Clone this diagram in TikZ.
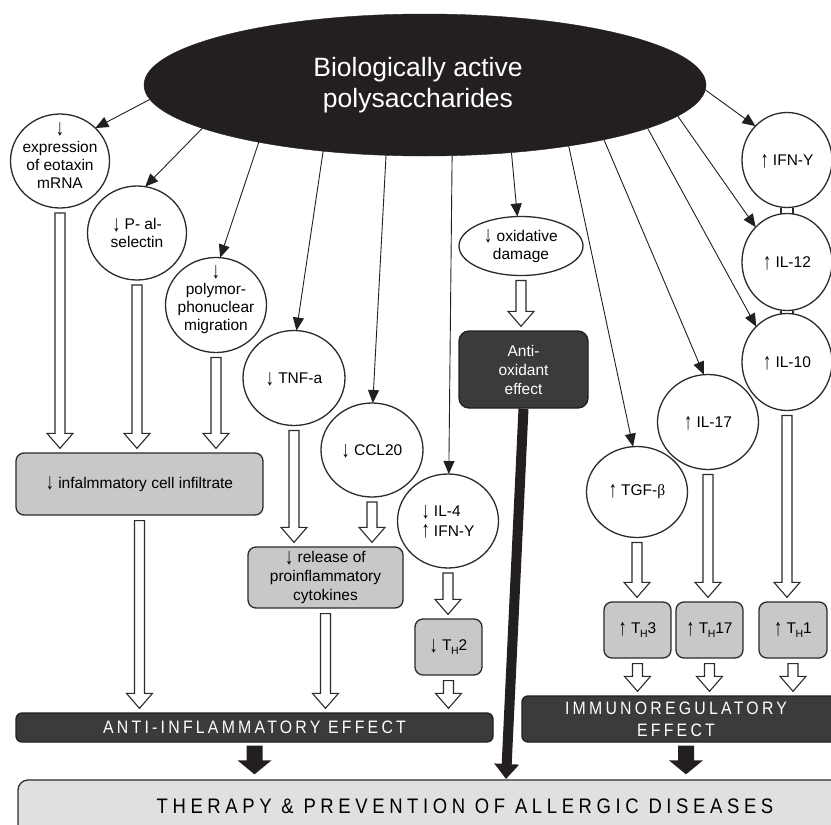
\documentclass[tikz,border=0pt]{standalone}
\usepackage{graphicx}
\usepackage{fontspec}
\setmainfont{Liberation Sans}
\newfontfamily\serifb{Liberation Serif}
\newfontfamily\capsfont[FakeStretch=0.88,LetterSpace=18]{Liberation Sans}
\newfontfamily\capsfontb[FakeStretch=0.88,LetterSpace=22]{Liberation Sans}
\usetikzlibrary{shapes.geometric,arrows.meta,calc}
\definecolor{ink}{HTML}{231F20}
\definecolor{darkbox}{HTML}{3B3B3D}
\definecolor{greybox}{HTML}{C8C8C8}
\definecolor{lightbox}{HTML}{E0E0E0}
\definecolor{linec}{HTML}{2B2B2B}
\newcommand\dnar{\smash{\raisebox{-0.12em}{\scalebox{1.05}[1.5]{↓}}}}
\newcommand\upar{\smash{\raisebox{-0.12em}{\scalebox{1.05}[1.5]{↑}}}}
\newcommand\Tsub[1]{T\kern-0.5pt\raisebox{-3.5pt}{\fontsize{10.5}{10.5}\selectfont H}#1}
\newcommand\hollowarr[2]{%
  \path[draw=linec,fill=white,line width=1.1pt] let \p1=(#1.south), \p2=(#2.north) in
   (\x1-5pt,\y1-5pt) -- (\x1-5pt,\y2+19pt) -- (\x1-13pt,\y2+19pt) -- (\x1,\y2+4pt)
   -- (\x1+13pt,\y2+19pt) -- (\x1+5pt,\y2+19pt) -- (\x1+5pt,\y1-5pt) -- cycle;}
\newcommand\blackarr[2]{%
  \path[fill=ink] let \p1=(#1.south), \p2=(#2.north) in
   (\x1-8pt,\y1-3pt) -- (\x1-8pt,\y2+19pt) -- (\x1-17pt,\y2+19pt) -- (\x1,\y2+5pt)
   -- (\x1+17pt,\y2+19pt) -- (\x1+8pt,\y2+19pt) -- (\x1+8pt,\y1-3pt) -- cycle;}
\begin{document}
\begin{tikzpicture}[x=1pt,y=-1pt,
  circ/.style={ellipse, draw=linec, line width=1.3pt, fill=white, inner sep=0pt, outer sep=0pt},
  ctxt/.style={align=center, font=\fontsize{15.5}{18}\selectfont, inner sep=0pt, text=black},
  gbox/.style={rectangle, rounded corners=8pt, draw=linec, line width=1.3pt, fill=greybox,
    inner sep=0pt, align=center, font=\fontsize{15.5}{19}\selectfont},
  dbox/.style={rectangle, rounded corners=6pt, draw=ink, line width=1.3pt, fill=darkbox,
    inner sep=0pt, align=center, text=white},
  ray/.style={line width=0.9pt, draw=ink, -{Triangle[length=13pt,width=11pt]}},
  big/.style={ellipse, fill=ink, draw=ink, inner sep=0pt, outer sep=0pt,
    minimum width=562pt, minimum height=142pt}]
\useasboundingbox (0,0) rectangle (831,825);
\clip (0,0) rectangle (831,825);
\fill[white] (0,0) rectangle (831,825);

% top
\node[big, label={[align=center, text=white, inner sep=0pt, xshift=-7pt,
  font=\fontsize{26.5}{31}\selectfont]center:{Biologically active\\polysaccharides}}]
  (bio) at (425,85) {};

% left circles
\node[circ, minimum width=99pt, minimum height=94pt,
  label={[ctxt]center:{\dnar\\expression\\of eotaxin\\mRNA}}] (c1) at (60,161) {};
\node[circ, minimum width=99pt, minimum height=94pt,
  label={[ctxt]center:{\dnar\ P- al-\\selectin}}] (c2) at (137,233) {};
\node[circ, minimum width=101pt, minimum height=95pt,
  label={[ctxt]center:{\dnar\\polymor-\\phonuclear\\migration}}] (c3) at (216,305) {};
\node[circ, minimum width=102pt, minimum height=95pt,
  label={[ctxt]center:{\dnar\ TNF-a}}] (tnf) at (294,378) {};
\node[circ, minimum width=102pt, minimum height=94pt,
  label={[ctxt]center:{\dnar\ CCL20}}] (ccl) at (372,450) {};
\node[circ, minimum width=101pt, minimum height=94pt,
  label={[ctxt,align=left,font=\fontsize{15.5}{19.5}\selectfont]center:{\dnar\ IL-4\\\upar\ IFN-Y}}] (il4) at (448,521) {};

% oxidative
\node[circ, minimum width=124pt, minimum height=59pt,
  label={[ctxt]center:{\dnar\ oxidative\\damage}}] (oxid) at (521,246) {};
\node[dbox, rounded corners=10pt, minimum width=129pt, minimum height=77pt,
  font=\fontsize{15.5}{19}\selectfont] (antiox) at (523.5,369.5) {Anti-\\oxidant\\effect};

% right circles
\node[circ, minimum width=101pt, minimum height=91pt,
  label={[ctxt]center:{\upar\ TGF-{\serifb β}}}] (tgf) at (637,492) {};
\node[circ, minimum width=101pt, minimum height=95pt,
  label={[ctxt]center:{\upar\ IL-17}}] (il17) at (708,422) {};
\node[circ, minimum width=90pt, minimum height=95pt,
  label={[ctxt]center:{\upar\ IFN-Y}}] (ifn) at (787,160) {};
\node[circ, minimum width=90pt, minimum height=97pt,
  label={[ctxt]center:{\upar\ IL-12}}] (il12) at (787,262) {};
\node[circ, minimum width=90pt, minimum height=97pt,
  label={[ctxt]center:{\upar\ IL-10}}] (il10) at (787,362) {};
\draw[linec, line width=1.1pt] ($(ifn.south)+(-6,0)$) -- ($(il12.north)+(-6,0)$)
  ($(ifn.south)+(6,0)$) -- ($(il12.north)+(6,0)$);
\draw[linec, line width=1.1pt] ($(il12.south)+(-6,0)$) -- ($(il10.north)+(-6,0)$)
  ($(il12.south)+(6,0)$) -- ($(il10.north)+(6,0)$);

% grey boxes
\node[gbox, minimum width=247pt, minimum height=62pt] (infil) at (139.5,484)
  {\dnar\ infalmmatory cell infiltrate};
\node[gbox, minimum width=155pt, minimum height=61pt] (rel) at (325.5,577.5)
  {\dnar\ release of\\proinflammatory\\cytokines};
\node[gbox, minimum width=67pt, minimum height=56pt] (th2) at (448.5,647) {\dnar\ \Tsub{2}};
\node[gbox, minimum width=67pt, minimum height=56pt] (th3) at (637.5,630) {\upar\ \Tsub{3}};
\node[gbox, minimum width=67pt, minimum height=56pt] (th17) at (709.5,630) {\upar\ \Tsub{17}};
\node[gbox, minimum width=68pt, minimum height=56pt] (th1) at (793,630) {\upar\ \Tsub{1}};

% effect boxes
\node[dbox, minimum width=477pt, minimum height=29pt,
  font=\capsfont\fontsize{18}{22}\selectfont] (anti) at (254.5,727.5) {ANTI-INFLAMMATORY EFFECT};
\node[dbox, minimum width=328pt, minimum height=46pt,
  label={[align=center,text=white,inner sep=0pt,xshift=-10pt,
    font=\capsfont\fontsize{18}{22}\selectfont]center:{IMMUNOREGULATORY\\EFFECT}}] (immuno) at (686,719) {};
\node[rectangle, rounded corners=10pt, draw=linec, line width=1.3pt, fill=lightbox,
  minimum width=827pt, minimum height=56pt,
  label={[inner sep=0pt,xshift=33.5pt,yshift=2pt,
    font=\capsfontb\fontsize{21}{25}\selectfont]center:{THERAPY \& PREVENTION OF ALLERGIC DISEASES}}]
  (ther) at (431.5,808) {};
\coordinate (thtip) at (506,779);

% thin arrows from the ellipse
\draw[ray] (bio.183) -- (c1.43);
\draw[ray] (bio.191) -- (c2.80);
\draw[ray] (bio.199) -- (c3.85);
\draw[ray] (bio.213) -- (tnf.87);
\draw[ray] (bio.241) -- (ccl.89);
\draw[ray] (bio.291) -- (il4.89);
\draw[ray] (bio.322) -- (oxid.97);
\draw[ray] (bio.337) -- (tgf.95);
\draw[ray] (bio.343) -- (il17.95);
\draw[ray] (bio.349) -- (il10.131);
\draw[ray] (bio.353) -- (il12.132);
\draw[ray] (bio.359) -- (ifn.133);

% hollow arrows
\hollowarr{c1}{infil}
\hollowarr{c2}{infil}
\hollowarr{c3}{infil}
\hollowarr{tnf}{rel}
\hollowarr{ccl}{rel}
\hollowarr{il4}{th2}
\hollowarr{infil}{anti}
\hollowarr{rel}{anti}
\hollowarr{th2}{anti}
\hollowarr{oxid}{antiox}
\hollowarr{tgf}{th3}
\hollowarr{il17}{th17}
\hollowarr{il10}{th1}
\hollowarr{th3}{immuno}
\hollowarr{th17}{immuno}
\hollowarr{th1}{immuno}

% black arrows
\blackarr{anti}{ther}
\blackarr{immuno}{ther}
\draw[ink, line width=10pt, -{Triangle[length=15pt,width=24pt]}] (antiox.south) -- (thtip);
\end{tikzpicture}
\end{document}
